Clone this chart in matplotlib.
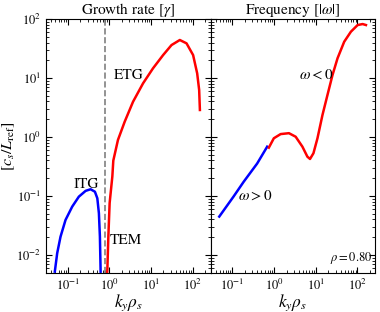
import matplotlib
matplotlib.use("Agg")
import matplotlib.pyplot as plt

# growth rate, ITG branch (ky*rho_s, gamma)
ky_itg = [0.0489, 0.0558, 0.0671, 0.0885, 0.128, 0.185, 0.269, 0.354, 0.450,
          0.514, 0.561, 0.593, 0.617]
gam_itg = [0.00521, 0.0107, 0.0204, 0.0392, 0.0659, 0.0973, 0.122, 0.130, 0.118,
           0.0914, 0.0509, 0.0204, 0.00521]

# growth rate, TEM/ETG branch
ky_etg = [0.881, 0.895, 0.946, 1.016, 1.18, 1.245, 1.61, 2.34, 3.71, 6.46, 11.2,
          19.6, 31.2, 49.4, 71.6, 103, 129, 144, 150]
gam_etg = [0.00479, 0.00562, 0.0204, 0.0759, 0.214, 0.398, 0.891, 1.82, 3.96,
           8.13, 14.6, 24.5, 36.2, 44.1, 38.7, 24.5, 12.0, 6.27, 2.87]

# real frequency, omega > 0 branch
ky_wp = [0.0486, 0.107, 0.187, 0.394, 0.685]
om_wp = [0.0447, 0.0977, 0.174, 0.355, 0.685]

# real frequency, omega < 0 branch
ky_wn = [0.750, 0.989, 1.44, 2.28, 3.30, 4.79, 6.31, 7.29, 8.81, 11.0, 14.5,
         19.1, 25.2, 33.3, 48.1, 69.7, 101, 133, 160]
om_wn = [0.659, 0.951, 1.12, 1.16, 1.01, 0.685, 0.463, 0.424, 0.530, 0.951, 2.36,
         5.15, 11.2, 21.6, 41.2, 61.0, 79.1, 82.2, 79.1]

ky_sep = 0.77
rho_lbl = r"$\rho=$0.80"

plt.rcParams["font.family"] = "STIXGeneral"
plt.rcParams["mathtext.fontset"] = "stix"
plt.rcParams["xtick.direction"] = "in"
plt.rcParams["ytick.direction"] = "in"

fig = plt.figure(figsize=(3.8, 3.12), dpi=100)
ax1 = fig.add_axes([0.121, 0.126, 0.433, 0.813])
ax2 = fig.add_axes([0.554, 0.126, 0.434, 0.813], sharey=ax1)

ax1.plot(ky_itg, gam_itg, color="blue", lw=1.8)
ax1.plot(ky_etg, gam_etg, color="red", lw=1.8)
ax1.axvline(ky_sep, color="gray", ls="--", lw=1.2)
ax1.text(0.28, 0.155, "ITG", fontsize=11, ha="center", va="center")
ax1.text(2.5, 0.018, "TEM", fontsize=11, ha="center", va="center")
ax1.text(2.9, 11, "ETG", fontsize=11, ha="center", va="center")
ax1.set_title(r"Growth rate [$\gamma$]", fontsize=11, pad=2)
ax1.set_ylabel(r"$[c_s/L_{\rm ref}]$", fontsize=11.5)
ax1.yaxis.set_label_coords(-0.175, 0.5)

ax2.plot(ky_wp, om_wp, color="blue", lw=1.8)
ax2.plot(ky_wn, om_wn, color="red", lw=1.8)
ax2.text(0.36, 0.1, r"$\omega>0$", fontsize=11, ha="center", va="center")
ax2.text(10.5, 11.3, r"$\omega<0$", fontsize=11, ha="center", va="center")
ax2.text(0.985, 0.025, rho_lbl, transform=ax2.transAxes, fontsize=9, ha="right", va="bottom")
ax2.set_title(r"Frequency [$|\omega|$]", fontsize=11, pad=2)
plt.setp(ax2.get_yticklabels(), visible=False)

for ax in (ax1, ax2):
    ax.set_xscale("log")
    ax.set_yscale("log")
    ax.set_xlim(0.03, 270)
    ax.set_ylim(0.005, 100)
    ax.set_xlabel(r"$k_y\rho_s$", fontsize=12.5, labelpad=0)
    ax.tick_params(which="both", top=True, right=True, labelsize=9)
    ax.tick_params(which="major", length=4)
    ax.tick_params(which="minor", length=2)

fig.savefig("out.png", dpi=100)
